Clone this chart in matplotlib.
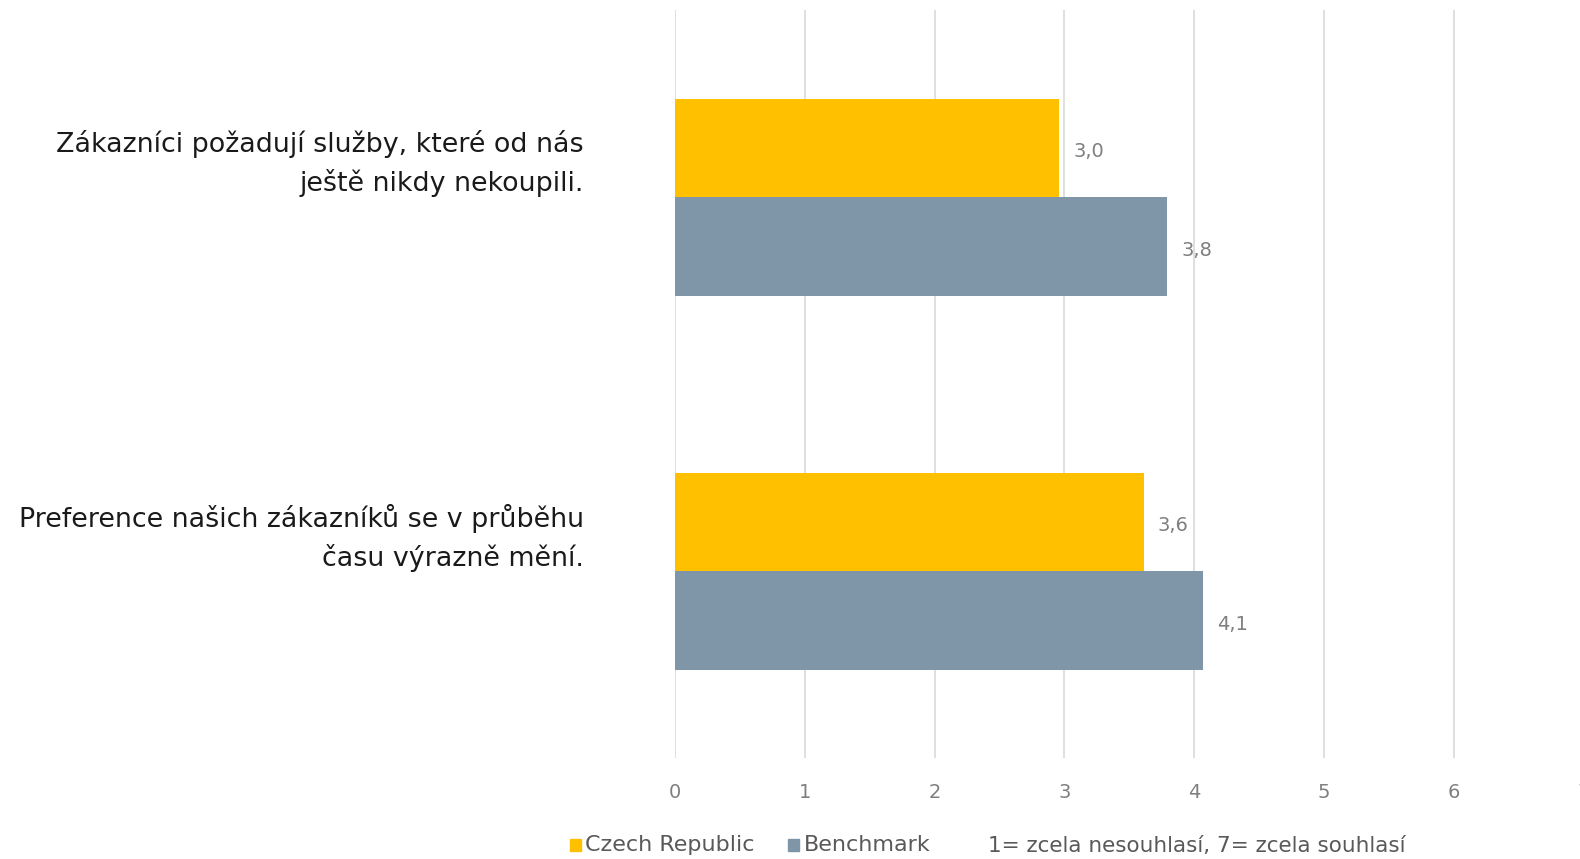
import matplotlib.pyplot as plt
import numpy as np
from matplotlib.patches import Rectangle

plt.rcParams['font.family'] = ['DejaVu Sans']

# data
categories = ['Zákazníci požadují služby, které od nás\nještě nikdy nekoupili.',
              'Preference našich zákazníků se v průběhu\nčasu výrazně mění.']
czech = [2.96, 3.61]
benchmark = [3.79, 4.07]
series_names = ['Czech Republic', 'Benchmark']
note = '1= zcela nesouhlasí, 7= zcela souhlasí'
xticks = [0, 1, 2, 3, 4, 5, 6, 7]

yellow = '#FFC000'
grey = '#7F95A8'
txt_grey = '#7F7F7F'

fig = plt.figure(figsize=(15.8, 8.59), dpi=100)
ax = fig.add_axes([0.4272, 0.117, 0.575, 0.871])

y = np.arange(len(categories))
h = 0.264
ax.barh(y - h / 2, czech, height=h, color=yellow, zorder=3)
ax.barh(y + h / 2, benchmark, height=h, color=grey, zorder=3)

# value labels with decimal comma
for yy, v in zip(y - h / 2, czech):
    ax.text(v + 0.11, yy + 0.01, f'{v:.1f}'.replace('.', ','), va='center', ha='left',
            fontsize=14, color=txt_grey)
for yy, v in zip(y + h / 2, benchmark):
    ax.text(v + 0.11, yy + 0.01, f'{v:.1f}'.replace('.', ','), va='center', ha='left',
            fontsize=14, color=txt_grey)

ax.set_xlim(0, 7)
ax.set_ylim(1.5, -0.5)
ax.set_xticks(xticks)
ax.set_xticklabels([str(t) for t in xticks], fontsize=14, color=txt_grey)
ax.set_yticks([])
ax.tick_params(axis='x', length=0, pad=18)
ax.grid(axis='x', color='#D9D9D9', linewidth=1.2, zorder=0)
for s in ax.spines.values():
    s.set_visible(False)

# category labels, a bit above the group centre like the original
for yy, lab in zip(y, categories):
    ax.annotate(lab, xy=(0, yy - 0.09), xytext=(-91, 0), textcoords='offset pixels',
                ha='right', va='center', fontsize=19.4, color='#1a1a1a', linespacing=1.5,
                annotation_clip=False)

# legend row at bottom
fig.patches.append(Rectangle((0.3605, 0.0095), 0.0075, 0.0135, color=yellow, transform=fig.transFigure))
fig.text(0.3705, 0.0165, series_names[0], fontsize=16, color='#595959', va='center')
fig.patches.append(Rectangle((0.4985, 0.0095), 0.0075, 0.0135, color=grey, transform=fig.transFigure))
fig.text(0.5085, 0.0165, series_names[1], fontsize=16, color='#595959', va='center')
fig.text(0.625, 0.0155, note, fontsize=15.5, color='#595959', va='center')

plt.savefig('out.png', dpi=100)
